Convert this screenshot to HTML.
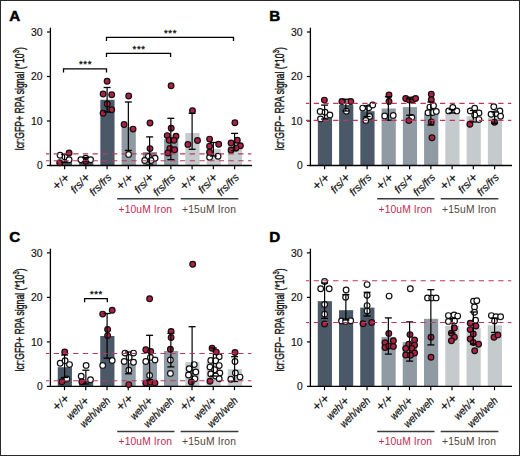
<!DOCTYPE html>
<html><head><meta charset="utf-8">
<style>
html,body{margin:0;padding:0;background:#fff;}
body{width:520px;height:456px;overflow:hidden;}
svg{display:block;font-family:"Liberation Sans", sans-serif;}
</style></head>
<body>
<svg width="520" height="456" viewBox="0 0 520 456">
<rect x="0" y="0" width="520" height="456" fill="#fff"/>
<rect x="57.85" y="161.0" width="14.2" height="4.50" fill="#4a5867"/>
<rect x="79.10" y="162.3" width="14.2" height="3.20" fill="#4a5867"/>
<rect x="100.35" y="99.8" width="14.2" height="65.70" fill="#4a5867"/>
<rect x="121.60" y="126.8" width="14.2" height="38.70" fill="#8f9aa3"/>
<rect x="142.85" y="152.0" width="14.2" height="13.50" fill="#8f9aa3"/>
<rect x="164.10" y="139.0" width="14.2" height="26.50" fill="#8f9aa3"/>
<rect x="185.35" y="133.0" width="14.2" height="32.50" fill="#c5cacd"/>
<rect x="206.60" y="149.2" width="14.2" height="16.30" fill="#c5cacd"/>
<rect x="227.85" y="142.0" width="14.2" height="23.50" fill="#c5cacd"/>
<line x1="50.4" y1="27.7" x2="50.4" y2="166.15" stroke="#000" stroke-width="1.3"/>
<line x1="49.75" y1="165.5" x2="252" y2="165.5" stroke="#000" stroke-width="1.3"/>
<line x1="46.9" y1="165.5" x2="50.4" y2="165.5" stroke="#000" stroke-width="1.2"/>
<text x="42.6" y="169.2" font-size="10.2" text-anchor="end" fill="#111" stroke="#111" stroke-width="0.15" textLength="5.7" lengthAdjust="spacingAndGlyphs">0</text>
<line x1="46.9" y1="121.0" x2="50.4" y2="121.0" stroke="#000" stroke-width="1.2"/>
<text x="42.6" y="124.7" font-size="10.2" text-anchor="end" fill="#111" stroke="#111" stroke-width="0.15" textLength="11.6" lengthAdjust="spacingAndGlyphs">10</text>
<line x1="46.9" y1="76.5" x2="50.4" y2="76.5" stroke="#000" stroke-width="1.2"/>
<text x="42.6" y="80.2" font-size="10.2" text-anchor="end" fill="#111" stroke="#111" stroke-width="0.15" textLength="11.6" lengthAdjust="spacingAndGlyphs">20</text>
<line x1="46.9" y1="32.0" x2="50.4" y2="32.0" stroke="#000" stroke-width="1.2"/>
<text x="42.6" y="35.7" font-size="10.2" text-anchor="end" fill="#111" stroke="#111" stroke-width="0.15" textLength="11.6" lengthAdjust="spacingAndGlyphs">30</text>
<line x1="64.6" y1="165.5" x2="64.6" y2="169.3" stroke="#000" stroke-width="1.2"/>
<line x1="85.85" y1="165.5" x2="85.85" y2="169.3" stroke="#000" stroke-width="1.2"/>
<line x1="107.1" y1="165.5" x2="107.1" y2="169.3" stroke="#000" stroke-width="1.2"/>
<line x1="128.35" y1="165.5" x2="128.35" y2="169.3" stroke="#000" stroke-width="1.2"/>
<line x1="149.6" y1="165.5" x2="149.6" y2="169.3" stroke="#000" stroke-width="1.2"/>
<line x1="170.85" y1="165.5" x2="170.85" y2="169.3" stroke="#000" stroke-width="1.2"/>
<line x1="192.1" y1="165.5" x2="192.1" y2="169.3" stroke="#000" stroke-width="1.2"/>
<line x1="213.35" y1="165.5" x2="213.35" y2="169.3" stroke="#000" stroke-width="1.2"/>
<line x1="234.6" y1="165.5" x2="234.6" y2="169.3" stroke="#000" stroke-width="1.2"/>
<text x="9.3" y="21.2" font-size="15.2" font-weight="bold" fill="#000" stroke="#000" stroke-width="0.5">A</text>
<text transform="translate(24,98.7) rotate(-90)" font-size="12.5" text-anchor="middle" fill="#111" stroke="#111" stroke-width="0.4" textLength="103" lengthAdjust="spacingAndGlyphs">lcr:GFP+ RPA signal (*10<tspan font-size="8.5" dy="-5">3</tspan><tspan dy="5">)</tspan></text>
<circle cx="85.7" cy="158.2" r="2.85" fill="#fff" stroke="#111" stroke-width="1.2"/>
<circle cx="85.7" cy="161.3" r="2.85" fill="#b02042" stroke="#111" stroke-width="1.2"/>
<circle cx="60.1" cy="155.3" r="2.85" fill="#fff" stroke="#111" stroke-width="1.2"/>
<circle cx="65.0" cy="157.0" r="2.85" fill="#fff" stroke="#111" stroke-width="1.2"/>
<circle cx="69.1" cy="159.7" r="2.85" fill="#fff" stroke="#111" stroke-width="1.2"/>
<circle cx="80.9" cy="159.7" r="2.85" fill="#fff" stroke="#111" stroke-width="1.2"/>
<circle cx="90.6" cy="159.7" r="2.85" fill="#fff" stroke="#111" stroke-width="1.2"/>
<circle cx="128.6" cy="154.4" r="2.85" fill="#fff" stroke="#111" stroke-width="1.2"/>
<circle cx="148.4" cy="156.4" r="2.85" fill="#fff" stroke="#111" stroke-width="1.2"/>
<circle cx="155.1" cy="158.2" r="2.85" fill="#fff" stroke="#111" stroke-width="1.2"/>
<circle cx="144.7" cy="160.5" r="2.85" fill="#fff" stroke="#111" stroke-width="1.2"/>
<circle cx="151.0" cy="160.5" r="2.85" fill="#fff" stroke="#111" stroke-width="1.2"/>
<circle cx="209.6" cy="157.2" r="2.85" fill="#fff" stroke="#111" stroke-width="1.2"/>
<circle cx="218.1" cy="156.2" r="2.85" fill="#fff" stroke="#111" stroke-width="1.2"/>
<circle cx="59.7" cy="162.8" r="2.85" fill="#b02042" stroke="#111" stroke-width="1.2"/>
<circle cx="69.1" cy="153.0" r="2.85" fill="#b02042" stroke="#111" stroke-width="1.2"/>
<circle cx="107.1" cy="81.2" r="2.85" fill="#b02042" stroke="#111" stroke-width="1.2"/>
<circle cx="103.1" cy="94.0" r="2.85" fill="#b02042" stroke="#111" stroke-width="1.2"/>
<circle cx="111.7" cy="94.8" r="2.85" fill="#b02042" stroke="#111" stroke-width="1.2"/>
<circle cx="107.3" cy="104.0" r="2.85" fill="#b02042" stroke="#111" stroke-width="1.2"/>
<circle cx="111.7" cy="109.8" r="2.85" fill="#b02042" stroke="#111" stroke-width="1.2"/>
<circle cx="103.1" cy="113.3" r="2.85" fill="#b02042" stroke="#111" stroke-width="1.2"/>
<circle cx="128.7" cy="96.0" r="2.85" fill="#b02042" stroke="#111" stroke-width="1.2"/>
<circle cx="124.1" cy="124.5" r="2.85" fill="#b02042" stroke="#111" stroke-width="1.2"/>
<circle cx="133.1" cy="129.1" r="2.85" fill="#b02042" stroke="#111" stroke-width="1.2"/>
<circle cx="150.0" cy="123.0" r="2.85" fill="#b02042" stroke="#111" stroke-width="1.2"/>
<circle cx="150.0" cy="148.6" r="2.85" fill="#b02042" stroke="#111" stroke-width="1.2"/>
<circle cx="171.1" cy="85.8" r="2.85" fill="#b02042" stroke="#111" stroke-width="1.2"/>
<circle cx="171.2" cy="128.2" r="2.85" fill="#b02042" stroke="#111" stroke-width="1.2"/>
<circle cx="167.2" cy="135.6" r="2.85" fill="#b02042" stroke="#111" stroke-width="1.2"/>
<circle cx="176.0" cy="136.2" r="2.85" fill="#b02042" stroke="#111" stroke-width="1.2"/>
<circle cx="169.2" cy="140.3" r="2.85" fill="#b02042" stroke="#111" stroke-width="1.2"/>
<circle cx="174.0" cy="140.3" r="2.85" fill="#b02042" stroke="#111" stroke-width="1.2"/>
<circle cx="169.9" cy="148.4" r="2.85" fill="#b02042" stroke="#111" stroke-width="1.2"/>
<circle cx="174.6" cy="149.7" r="2.85" fill="#b02042" stroke="#111" stroke-width="1.2"/>
<circle cx="167.9" cy="153.0" r="2.85" fill="#b02042" stroke="#111" stroke-width="1.2"/>
<circle cx="192.5" cy="110.7" r="2.85" fill="#b02042" stroke="#111" stroke-width="1.2"/>
<circle cx="187.9" cy="144.4" r="2.85" fill="#b02042" stroke="#111" stroke-width="1.2"/>
<circle cx="197.5" cy="140.5" r="2.85" fill="#b02042" stroke="#111" stroke-width="1.2"/>
<circle cx="209.6" cy="139.1" r="2.85" fill="#b02042" stroke="#111" stroke-width="1.2"/>
<circle cx="218.7" cy="144.2" r="2.85" fill="#b02042" stroke="#111" stroke-width="1.2"/>
<circle cx="209.6" cy="146.3" r="2.85" fill="#b02042" stroke="#111" stroke-width="1.2"/>
<circle cx="209.6" cy="152.3" r="2.85" fill="#b02042" stroke="#111" stroke-width="1.2"/>
<circle cx="234.9" cy="122.8" r="2.85" fill="#b02042" stroke="#111" stroke-width="1.2"/>
<circle cx="231.1" cy="143.0" r="2.85" fill="#b02042" stroke="#111" stroke-width="1.2"/>
<circle cx="237.3" cy="140.3" r="2.85" fill="#b02042" stroke="#111" stroke-width="1.2"/>
<circle cx="240.4" cy="145.7" r="2.85" fill="#b02042" stroke="#111" stroke-width="1.2"/>
<circle cx="236.1" cy="148.1" r="2.85" fill="#b02042" stroke="#111" stroke-width="1.2"/>
<circle cx="231.1" cy="150.2" r="2.85" fill="#b02042" stroke="#111" stroke-width="1.2"/>
<line x1="64.6" y1="154.5" x2="64.6" y2="162.5" stroke="#000" stroke-width="1.2"/>
<line x1="61.099999999999994" y1="154.5" x2="68.1" y2="154.5" stroke="#000" stroke-width="1.3"/>
<line x1="61.099999999999994" y1="162.5" x2="68.1" y2="162.5" stroke="#000" stroke-width="1.3"/>
<line x1="85.85" y1="157.5" x2="85.85" y2="161.5" stroke="#000" stroke-width="1.2"/>
<line x1="82.35" y1="157.5" x2="89.35" y2="157.5" stroke="#000" stroke-width="1.3"/>
<line x1="82.35" y1="161.5" x2="89.35" y2="161.5" stroke="#000" stroke-width="1.3"/>
<line x1="107.1" y1="87.5" x2="107.1" y2="112.1" stroke="#000" stroke-width="1.2"/>
<line x1="103.6" y1="87.5" x2="110.6" y2="87.5" stroke="#000" stroke-width="1.3"/>
<line x1="103.6" y1="112.1" x2="110.6" y2="112.1" stroke="#000" stroke-width="1.3"/>
<line x1="128.35" y1="102.0" x2="128.35" y2="150.4" stroke="#000" stroke-width="1.2"/>
<line x1="124.85" y1="102.0" x2="131.85" y2="102.0" stroke="#000" stroke-width="1.3"/>
<line x1="124.85" y1="150.4" x2="131.85" y2="150.4" stroke="#000" stroke-width="1.3"/>
<line x1="149.6" y1="136.9" x2="149.6" y2="165.0" stroke="#000" stroke-width="1.2"/>
<line x1="146.1" y1="136.9" x2="153.1" y2="136.9" stroke="#000" stroke-width="1.3"/>
<line x1="146.1" y1="165.0" x2="153.1" y2="165.0" stroke="#000" stroke-width="1.3"/>
<line x1="170.85" y1="118.3" x2="170.85" y2="159.7" stroke="#000" stroke-width="1.2"/>
<line x1="167.35" y1="118.3" x2="174.35" y2="118.3" stroke="#000" stroke-width="1.3"/>
<line x1="167.35" y1="159.7" x2="174.35" y2="159.7" stroke="#000" stroke-width="1.3"/>
<line x1="192.1" y1="113.3" x2="192.1" y2="149.3" stroke="#000" stroke-width="1.2"/>
<line x1="188.6" y1="113.3" x2="195.6" y2="113.3" stroke="#000" stroke-width="1.3"/>
<line x1="188.6" y1="149.3" x2="195.6" y2="149.3" stroke="#000" stroke-width="1.3"/>
<line x1="213.35" y1="142.5" x2="213.35" y2="156.0" stroke="#000" stroke-width="1.2"/>
<line x1="209.85" y1="142.5" x2="216.85" y2="142.5" stroke="#000" stroke-width="1.3"/>
<line x1="209.85" y1="156.0" x2="216.85" y2="156.0" stroke="#000" stroke-width="1.3"/>
<line x1="234.6" y1="133.4" x2="234.6" y2="150.6" stroke="#000" stroke-width="1.2"/>
<line x1="231.1" y1="133.4" x2="238.1" y2="133.4" stroke="#000" stroke-width="1.3"/>
<line x1="231.1" y1="150.6" x2="238.1" y2="150.6" stroke="#000" stroke-width="1.3"/>
<line x1="46" y1="153.8" x2="251.3" y2="153.8" stroke="#bb3a5c" stroke-width="1.15" stroke-dasharray="5.3 4.41" stroke-dashoffset="2"/>
<line x1="46" y1="160.7" x2="251.3" y2="160.7" stroke="#bb3a5c" stroke-width="1.15" stroke-dasharray="5.3 4.41" stroke-dashoffset="2"/>
<path d="M63.5 72.39999999999999 V68.8 H106.5 V72.39999999999999" fill="none" stroke="#000" stroke-width="1.3"/>
<text x="85.5" y="66.5" font-size="9.5" letter-spacing="0.6" text-anchor="middle" fill="#111" stroke="#111" stroke-width="0.3">***</text>
<path d="M106.5 56.9 V53.3 H170.6 V56.9" fill="none" stroke="#000" stroke-width="1.3"/>
<text x="139.05" y="51.8" font-size="9.5" letter-spacing="0.6" text-anchor="middle" fill="#111" stroke="#111" stroke-width="0.3">***</text>
<path d="M106.5 40.9 V37.3 H233.5 V40.9" fill="none" stroke="#000" stroke-width="1.3"/>
<text x="170.5" y="36.0" font-size="9.5" letter-spacing="0.6" text-anchor="middle" fill="#111" stroke="#111" stroke-width="0.3">***</text>
<text transform="translate(69.6,178.0) rotate(-45)" font-size="11" font-style="italic" text-anchor="end" fill="#111" stroke="#111" stroke-width="0.2" textLength="18" lengthAdjust="spacingAndGlyphs"><tspan font-size="13.5" dy="0.6">+</tspan><tspan dy="-0.6"></tspan>/<tspan font-size="13.5" dy="0.6">+</tspan><tspan dy="-0.6"></tspan></text>
<text transform="translate(90.85,178.0) rotate(-45)" font-size="11" font-style="italic" text-anchor="end" fill="#111" stroke="#111" stroke-width="0.2" textLength="22.5" lengthAdjust="spacingAndGlyphs">frs/<tspan font-size="13.5" dy="0.6">+</tspan><tspan dy="-0.6"></tspan></text>
<text transform="translate(112.1,178.0) rotate(-45)" font-size="11" font-style="italic" text-anchor="end" fill="#111" stroke="#111" stroke-width="0.2" textLength="26" lengthAdjust="spacingAndGlyphs">frs/frs</text>
<text transform="translate(133.35,178.0) rotate(-45)" font-size="11" font-style="italic" text-anchor="end" fill="#111" stroke="#111" stroke-width="0.2" textLength="18" lengthAdjust="spacingAndGlyphs"><tspan font-size="13.5" dy="0.6">+</tspan><tspan dy="-0.6"></tspan>/<tspan font-size="13.5" dy="0.6">+</tspan><tspan dy="-0.6"></tspan></text>
<text transform="translate(154.6,178.0) rotate(-45)" font-size="11" font-style="italic" text-anchor="end" fill="#111" stroke="#111" stroke-width="0.2" textLength="22.5" lengthAdjust="spacingAndGlyphs">frs/<tspan font-size="13.5" dy="0.6">+</tspan><tspan dy="-0.6"></tspan></text>
<text transform="translate(175.85,178.0) rotate(-45)" font-size="11" font-style="italic" text-anchor="end" fill="#111" stroke="#111" stroke-width="0.2" textLength="26" lengthAdjust="spacingAndGlyphs">frs/frs</text>
<text transform="translate(197.1,178.0) rotate(-45)" font-size="11" font-style="italic" text-anchor="end" fill="#111" stroke="#111" stroke-width="0.2" textLength="18" lengthAdjust="spacingAndGlyphs"><tspan font-size="13.5" dy="0.6">+</tspan><tspan dy="-0.6"></tspan>/<tspan font-size="13.5" dy="0.6">+</tspan><tspan dy="-0.6"></tspan></text>
<text transform="translate(218.35,178.0) rotate(-45)" font-size="11" font-style="italic" text-anchor="end" fill="#111" stroke="#111" stroke-width="0.2" textLength="22.5" lengthAdjust="spacingAndGlyphs">frs/<tspan font-size="13.5" dy="0.6">+</tspan><tspan dy="-0.6"></tspan></text>
<text transform="translate(239.6,178.0) rotate(-45)" font-size="11" font-style="italic" text-anchor="end" fill="#111" stroke="#111" stroke-width="0.2" textLength="26" lengthAdjust="spacingAndGlyphs">frs/frs</text>
<line x1="117.2" y1="198.7" x2="174.5" y2="198.7" stroke="#3a3a3a" stroke-width="1.5"/>
<line x1="180.7" y1="198.7" x2="238.4" y2="198.7" stroke="#3a3a3a" stroke-width="1.5"/>
<text x="118.5" y="212.8" font-size="10.3" fill="#c42a52" textLength="53.5" lengthAdjust="spacing">+10uM Iron</text>
<text x="182" y="212.8" font-size="10.3" fill="#52443a" textLength="54" lengthAdjust="spacing">+15uM Iron</text>
<rect x="317.85" y="117.6" width="14.2" height="47.90" fill="#4a5867"/>
<rect x="339.10" y="105.0" width="14.2" height="60.50" fill="#4a5867"/>
<rect x="360.35" y="111.2" width="14.2" height="54.30" fill="#4a5867"/>
<rect x="381.60" y="108.5" width="14.2" height="57.00" fill="#8f9aa3"/>
<rect x="402.85" y="107.1" width="14.2" height="58.40" fill="#8f9aa3"/>
<rect x="424.10" y="113.5" width="14.2" height="52.00" fill="#8f9aa3"/>
<rect x="445.35" y="112.9" width="14.2" height="52.60" fill="#c5cacd"/>
<rect x="466.60" y="116.2" width="14.2" height="49.30" fill="#c5cacd"/>
<rect x="487.85" y="117.6" width="14.2" height="47.90" fill="#c5cacd"/>
<line x1="310.4" y1="27.7" x2="310.4" y2="166.15" stroke="#000" stroke-width="1.3"/>
<line x1="309.75" y1="165.5" x2="512" y2="165.5" stroke="#000" stroke-width="1.3"/>
<line x1="306.9" y1="165.5" x2="310.4" y2="165.5" stroke="#000" stroke-width="1.2"/>
<text x="302.59999999999997" y="169.2" font-size="10.2" text-anchor="end" fill="#111" stroke="#111" stroke-width="0.15" textLength="5.7" lengthAdjust="spacingAndGlyphs">0</text>
<line x1="306.9" y1="121.0" x2="310.4" y2="121.0" stroke="#000" stroke-width="1.2"/>
<text x="302.59999999999997" y="124.7" font-size="10.2" text-anchor="end" fill="#111" stroke="#111" stroke-width="0.15" textLength="11.6" lengthAdjust="spacingAndGlyphs">10</text>
<line x1="306.9" y1="76.5" x2="310.4" y2="76.5" stroke="#000" stroke-width="1.2"/>
<text x="302.59999999999997" y="80.2" font-size="10.2" text-anchor="end" fill="#111" stroke="#111" stroke-width="0.15" textLength="11.6" lengthAdjust="spacingAndGlyphs">20</text>
<line x1="306.9" y1="32.0" x2="310.4" y2="32.0" stroke="#000" stroke-width="1.2"/>
<text x="302.59999999999997" y="35.7" font-size="10.2" text-anchor="end" fill="#111" stroke="#111" stroke-width="0.15" textLength="11.6" lengthAdjust="spacingAndGlyphs">30</text>
<line x1="324.6" y1="165.5" x2="324.6" y2="169.3" stroke="#000" stroke-width="1.2"/>
<line x1="345.85" y1="165.5" x2="345.85" y2="169.3" stroke="#000" stroke-width="1.2"/>
<line x1="367.1" y1="165.5" x2="367.1" y2="169.3" stroke="#000" stroke-width="1.2"/>
<line x1="388.35" y1="165.5" x2="388.35" y2="169.3" stroke="#000" stroke-width="1.2"/>
<line x1="409.6" y1="165.5" x2="409.6" y2="169.3" stroke="#000" stroke-width="1.2"/>
<line x1="430.85" y1="165.5" x2="430.85" y2="169.3" stroke="#000" stroke-width="1.2"/>
<line x1="452.1" y1="165.5" x2="452.1" y2="169.3" stroke="#000" stroke-width="1.2"/>
<line x1="473.35" y1="165.5" x2="473.35" y2="169.3" stroke="#000" stroke-width="1.2"/>
<line x1="494.6" y1="165.5" x2="494.6" y2="169.3" stroke="#000" stroke-width="1.2"/>
<text x="269.3" y="21.2" font-size="15.2" font-weight="bold" fill="#000" stroke="#000" stroke-width="0.5">B</text>
<text transform="translate(284,98.7) rotate(-90)" font-size="12.5" text-anchor="middle" fill="#111" stroke="#111" stroke-width="0.4" textLength="103" lengthAdjust="spacingAndGlyphs">lcr:GFP− RPA signal (*10<tspan font-size="8.5" dy="-5">3</tspan><tspan dy="5">)</tspan></text>
<circle cx="320.1" cy="111.5" r="2.85" fill="#fff" stroke="#111" stroke-width="1.2"/>
<circle cx="325.1" cy="112.2" r="2.85" fill="#fff" stroke="#111" stroke-width="1.2"/>
<circle cx="329.9" cy="114.9" r="2.85" fill="#fff" stroke="#111" stroke-width="1.2"/>
<circle cx="320.5" cy="118.9" r="2.85" fill="#fff" stroke="#111" stroke-width="1.2"/>
<circle cx="346.4" cy="111.2" r="2.85" fill="#fff" stroke="#111" stroke-width="1.2"/>
<circle cx="362.7" cy="108.1" r="2.85" fill="#fff" stroke="#111" stroke-width="1.2"/>
<circle cx="368.8" cy="107.7" r="2.85" fill="#fff" stroke="#111" stroke-width="1.2"/>
<circle cx="372.7" cy="105.0" r="2.85" fill="#fff" stroke="#111" stroke-width="1.2"/>
<circle cx="369.6" cy="116.5" r="2.85" fill="#fff" stroke="#111" stroke-width="1.2"/>
<circle cx="365.8" cy="120.4" r="2.85" fill="#fff" stroke="#111" stroke-width="1.2"/>
<circle cx="384.7" cy="115.9" r="2.85" fill="#fff" stroke="#111" stroke-width="1.2"/>
<circle cx="393.2" cy="115.4" r="2.85" fill="#fff" stroke="#111" stroke-width="1.2"/>
<circle cx="411.8" cy="117.4" r="2.85" fill="#fff" stroke="#111" stroke-width="1.2"/>
<circle cx="429.9" cy="107.1" r="2.85" fill="#fff" stroke="#111" stroke-width="1.2"/>
<circle cx="433.5" cy="105.7" r="2.85" fill="#fff" stroke="#111" stroke-width="1.2"/>
<circle cx="428.0" cy="112.8" r="2.85" fill="#fff" stroke="#111" stroke-width="1.2"/>
<circle cx="432.7" cy="112.5" r="2.85" fill="#fff" stroke="#111" stroke-width="1.2"/>
<circle cx="436.3" cy="111.4" r="2.85" fill="#fff" stroke="#111" stroke-width="1.2"/>
<circle cx="448.7" cy="110.9" r="2.85" fill="#fff" stroke="#111" stroke-width="1.2"/>
<circle cx="452.8" cy="107.5" r="2.85" fill="#fff" stroke="#111" stroke-width="1.2"/>
<circle cx="456.8" cy="110.9" r="2.85" fill="#fff" stroke="#111" stroke-width="1.2"/>
<circle cx="470.3" cy="110.9" r="2.85" fill="#fff" stroke="#111" stroke-width="1.2"/>
<circle cx="474.7" cy="108.2" r="2.85" fill="#fff" stroke="#111" stroke-width="1.2"/>
<circle cx="479.0" cy="112.9" r="2.85" fill="#fff" stroke="#111" stroke-width="1.2"/>
<circle cx="474.7" cy="114.9" r="2.85" fill="#fff" stroke="#111" stroke-width="1.2"/>
<circle cx="479.0" cy="119.6" r="2.85" fill="#fff" stroke="#111" stroke-width="1.2"/>
<circle cx="493.8" cy="106.8" r="2.85" fill="#fff" stroke="#111" stroke-width="1.2"/>
<circle cx="499.9" cy="110.9" r="2.85" fill="#fff" stroke="#111" stroke-width="1.2"/>
<circle cx="491.1" cy="114.2" r="2.85" fill="#fff" stroke="#111" stroke-width="1.2"/>
<circle cx="495.9" cy="113.6" r="2.85" fill="#fff" stroke="#111" stroke-width="1.2"/>
<circle cx="500.6" cy="116.2" r="2.85" fill="#fff" stroke="#111" stroke-width="1.2"/>
<circle cx="324.4" cy="100.1" r="2.85" fill="#b02042" stroke="#111" stroke-width="1.2"/>
<circle cx="341.9" cy="101.5" r="2.85" fill="#b02042" stroke="#111" stroke-width="1.2"/>
<circle cx="350.8" cy="101.5" r="2.85" fill="#b02042" stroke="#111" stroke-width="1.2"/>
<circle cx="389.0" cy="95.0" r="2.85" fill="#b02042" stroke="#111" stroke-width="1.2"/>
<circle cx="389.0" cy="101.4" r="2.85" fill="#b02042" stroke="#111" stroke-width="1.2"/>
<circle cx="405.7" cy="98.5" r="2.85" fill="#b02042" stroke="#111" stroke-width="1.2"/>
<circle cx="409.2" cy="100.0" r="2.85" fill="#b02042" stroke="#111" stroke-width="1.2"/>
<circle cx="412.8" cy="99.7" r="2.85" fill="#b02042" stroke="#111" stroke-width="1.2"/>
<circle cx="415.6" cy="98.5" r="2.85" fill="#b02042" stroke="#111" stroke-width="1.2"/>
<circle cx="408.9" cy="120.6" r="2.85" fill="#b02042" stroke="#111" stroke-width="1.2"/>
<circle cx="431.3" cy="94.3" r="2.85" fill="#b02042" stroke="#111" stroke-width="1.2"/>
<circle cx="431.3" cy="99.7" r="2.85" fill="#b02042" stroke="#111" stroke-width="1.2"/>
<circle cx="431.3" cy="122.0" r="2.85" fill="#b02042" stroke="#111" stroke-width="1.2"/>
<circle cx="432.0" cy="137.7" r="2.85" fill="#b02042" stroke="#111" stroke-width="1.2"/>
<circle cx="469.9" cy="124.3" r="2.85" fill="#b02042" stroke="#111" stroke-width="1.2"/>
<circle cx="494.5" cy="122.3" r="2.85" fill="#b02042" stroke="#111" stroke-width="1.2"/>
<line x1="324.6" y1="105.1" x2="324.6" y2="119.0" stroke="#000" stroke-width="1.2"/>
<line x1="321.1" y1="105.1" x2="328.1" y2="105.1" stroke="#000" stroke-width="1.3"/>
<line x1="321.1" y1="119.0" x2="328.1" y2="119.0" stroke="#000" stroke-width="1.3"/>
<line x1="345.85" y1="99.2" x2="345.85" y2="111.0" stroke="#000" stroke-width="1.2"/>
<line x1="342.35" y1="99.2" x2="349.35" y2="99.2" stroke="#000" stroke-width="1.3"/>
<line x1="342.35" y1="111.0" x2="349.35" y2="111.0" stroke="#000" stroke-width="1.3"/>
<line x1="367.1" y1="106.0" x2="367.1" y2="116.5" stroke="#000" stroke-width="1.2"/>
<line x1="363.6" y1="106.0" x2="370.6" y2="106.0" stroke="#000" stroke-width="1.3"/>
<line x1="363.6" y1="116.5" x2="370.6" y2="116.5" stroke="#000" stroke-width="1.3"/>
<line x1="388.35" y1="96.8" x2="388.35" y2="120.2" stroke="#000" stroke-width="1.2"/>
<line x1="384.85" y1="96.8" x2="391.85" y2="96.8" stroke="#000" stroke-width="1.3"/>
<line x1="384.85" y1="120.2" x2="391.85" y2="120.2" stroke="#000" stroke-width="1.3"/>
<line x1="409.6" y1="99.0" x2="409.6" y2="115.2" stroke="#000" stroke-width="1.2"/>
<line x1="406.1" y1="99.0" x2="413.1" y2="99.0" stroke="#000" stroke-width="1.3"/>
<line x1="406.1" y1="115.2" x2="413.1" y2="115.2" stroke="#000" stroke-width="1.3"/>
<line x1="430.85" y1="102.0" x2="430.85" y2="125.0" stroke="#000" stroke-width="1.2"/>
<line x1="427.35" y1="102.0" x2="434.35" y2="102.0" stroke="#000" stroke-width="1.3"/>
<line x1="427.35" y1="125.0" x2="434.35" y2="125.0" stroke="#000" stroke-width="1.3"/>
<line x1="452.1" y1="109.5" x2="452.1" y2="113.0" stroke="#000" stroke-width="1.2"/>
<line x1="448.6" y1="109.5" x2="455.6" y2="109.5" stroke="#000" stroke-width="1.3"/>
<line x1="448.6" y1="113.0" x2="455.6" y2="113.0" stroke="#000" stroke-width="1.3"/>
<line x1="473.35" y1="110.5" x2="473.35" y2="122.0" stroke="#000" stroke-width="1.2"/>
<line x1="469.85" y1="110.5" x2="476.85" y2="110.5" stroke="#000" stroke-width="1.3"/>
<line x1="469.85" y1="122.0" x2="476.85" y2="122.0" stroke="#000" stroke-width="1.3"/>
<line x1="494.6" y1="112.0" x2="494.6" y2="123.2" stroke="#000" stroke-width="1.2"/>
<line x1="491.1" y1="112.0" x2="498.1" y2="112.0" stroke="#000" stroke-width="1.3"/>
<line x1="491.1" y1="123.2" x2="498.1" y2="123.2" stroke="#000" stroke-width="1.3"/>
<line x1="306" y1="103.4" x2="511.3" y2="103.4" stroke="#bb3a5c" stroke-width="1.15" stroke-dasharray="5.3 4.41" stroke-dashoffset="2"/>
<line x1="306" y1="120.3" x2="511.3" y2="120.3" stroke="#bb3a5c" stroke-width="1.15" stroke-dasharray="5.3 4.41" stroke-dashoffset="2"/>
<text transform="translate(329.6,178.0) rotate(-45)" font-size="11" font-style="italic" text-anchor="end" fill="#111" stroke="#111" stroke-width="0.2" textLength="18" lengthAdjust="spacingAndGlyphs"><tspan font-size="13.5" dy="0.6">+</tspan><tspan dy="-0.6"></tspan>/<tspan font-size="13.5" dy="0.6">+</tspan><tspan dy="-0.6"></tspan></text>
<text transform="translate(350.85,178.0) rotate(-45)" font-size="11" font-style="italic" text-anchor="end" fill="#111" stroke="#111" stroke-width="0.2" textLength="22.5" lengthAdjust="spacingAndGlyphs">frs/<tspan font-size="13.5" dy="0.6">+</tspan><tspan dy="-0.6"></tspan></text>
<text transform="translate(372.1,178.0) rotate(-45)" font-size="11" font-style="italic" text-anchor="end" fill="#111" stroke="#111" stroke-width="0.2" textLength="26" lengthAdjust="spacingAndGlyphs">frs/frs</text>
<text transform="translate(393.35,178.0) rotate(-45)" font-size="11" font-style="italic" text-anchor="end" fill="#111" stroke="#111" stroke-width="0.2" textLength="18" lengthAdjust="spacingAndGlyphs"><tspan font-size="13.5" dy="0.6">+</tspan><tspan dy="-0.6"></tspan>/<tspan font-size="13.5" dy="0.6">+</tspan><tspan dy="-0.6"></tspan></text>
<text transform="translate(414.6,178.0) rotate(-45)" font-size="11" font-style="italic" text-anchor="end" fill="#111" stroke="#111" stroke-width="0.2" textLength="22.5" lengthAdjust="spacingAndGlyphs">frs/<tspan font-size="13.5" dy="0.6">+</tspan><tspan dy="-0.6"></tspan></text>
<text transform="translate(435.85,178.0) rotate(-45)" font-size="11" font-style="italic" text-anchor="end" fill="#111" stroke="#111" stroke-width="0.2" textLength="26" lengthAdjust="spacingAndGlyphs">frs/frs</text>
<text transform="translate(457.1,178.0) rotate(-45)" font-size="11" font-style="italic" text-anchor="end" fill="#111" stroke="#111" stroke-width="0.2" textLength="18" lengthAdjust="spacingAndGlyphs"><tspan font-size="13.5" dy="0.6">+</tspan><tspan dy="-0.6"></tspan>/<tspan font-size="13.5" dy="0.6">+</tspan><tspan dy="-0.6"></tspan></text>
<text transform="translate(478.35,178.0) rotate(-45)" font-size="11" font-style="italic" text-anchor="end" fill="#111" stroke="#111" stroke-width="0.2" textLength="22.5" lengthAdjust="spacingAndGlyphs">frs/<tspan font-size="13.5" dy="0.6">+</tspan><tspan dy="-0.6"></tspan></text>
<text transform="translate(499.6,178.0) rotate(-45)" font-size="11" font-style="italic" text-anchor="end" fill="#111" stroke="#111" stroke-width="0.2" textLength="26" lengthAdjust="spacingAndGlyphs">frs/frs</text>
<line x1="377.2" y1="198.7" x2="434.5" y2="198.7" stroke="#3a3a3a" stroke-width="1.5"/>
<line x1="440.7" y1="198.7" x2="498.4" y2="198.7" stroke="#3a3a3a" stroke-width="1.5"/>
<text x="378.5" y="212.8" font-size="10.3" fill="#c42a52" textLength="53.5" lengthAdjust="spacing">+10uM Iron</text>
<text x="442" y="212.8" font-size="10.3" fill="#52443a" textLength="54" lengthAdjust="spacing">+15uM Iron</text>
<rect x="57.75" y="367.2" width="14.2" height="19.20" fill="#4a5867"/>
<rect x="79.00" y="381.0" width="14.2" height="5.40" fill="#4a5867"/>
<rect x="100.25" y="336.0" width="14.2" height="50.40" fill="#4a5867"/>
<rect x="121.50" y="363.0" width="14.2" height="23.40" fill="#8f9aa3"/>
<rect x="142.75" y="362.3" width="14.2" height="24.10" fill="#8f9aa3"/>
<rect x="164.00" y="351.0" width="14.2" height="35.40" fill="#8f9aa3"/>
<rect x="185.25" y="362.1" width="14.2" height="24.30" fill="#c5cacd"/>
<rect x="206.50" y="362.0" width="14.2" height="24.40" fill="#c5cacd"/>
<rect x="227.75" y="369.2" width="14.2" height="17.20" fill="#c5cacd"/>
<line x1="50.4" y1="248.7" x2="50.4" y2="387.04999999999995" stroke="#000" stroke-width="1.3"/>
<line x1="49.75" y1="386.4" x2="252" y2="386.4" stroke="#000" stroke-width="1.3"/>
<line x1="46.9" y1="386.4" x2="50.4" y2="386.4" stroke="#000" stroke-width="1.2"/>
<text x="42.6" y="390.09999999999997" font-size="10.2" text-anchor="end" fill="#111" stroke="#111" stroke-width="0.15" textLength="5.7" lengthAdjust="spacingAndGlyphs">0</text>
<line x1="46.9" y1="341.9" x2="50.4" y2="341.9" stroke="#000" stroke-width="1.2"/>
<text x="42.6" y="345.59999999999997" font-size="10.2" text-anchor="end" fill="#111" stroke="#111" stroke-width="0.15" textLength="11.6" lengthAdjust="spacingAndGlyphs">10</text>
<line x1="46.9" y1="297.4" x2="50.4" y2="297.4" stroke="#000" stroke-width="1.2"/>
<text x="42.6" y="301.09999999999997" font-size="10.2" text-anchor="end" fill="#111" stroke="#111" stroke-width="0.15" textLength="11.6" lengthAdjust="spacingAndGlyphs">20</text>
<line x1="46.9" y1="252.89999999999998" x2="50.4" y2="252.89999999999998" stroke="#000" stroke-width="1.2"/>
<text x="42.6" y="256.59999999999997" font-size="10.2" text-anchor="end" fill="#111" stroke="#111" stroke-width="0.15" textLength="11.6" lengthAdjust="spacingAndGlyphs">30</text>
<line x1="64.5" y1="386.4" x2="64.5" y2="390.2" stroke="#000" stroke-width="1.2"/>
<line x1="85.75" y1="386.4" x2="85.75" y2="390.2" stroke="#000" stroke-width="1.2"/>
<line x1="107.0" y1="386.4" x2="107.0" y2="390.2" stroke="#000" stroke-width="1.2"/>
<line x1="128.25" y1="386.4" x2="128.25" y2="390.2" stroke="#000" stroke-width="1.2"/>
<line x1="149.5" y1="386.4" x2="149.5" y2="390.2" stroke="#000" stroke-width="1.2"/>
<line x1="170.75" y1="386.4" x2="170.75" y2="390.2" stroke="#000" stroke-width="1.2"/>
<line x1="192.0" y1="386.4" x2="192.0" y2="390.2" stroke="#000" stroke-width="1.2"/>
<line x1="213.25" y1="386.4" x2="213.25" y2="390.2" stroke="#000" stroke-width="1.2"/>
<line x1="234.5" y1="386.4" x2="234.5" y2="390.2" stroke="#000" stroke-width="1.2"/>
<text x="9.3" y="242.39999999999998" font-size="15.2" font-weight="bold" fill="#000" stroke="#000" stroke-width="0.5">C</text>
<text transform="translate(24,319.9) rotate(-90)" font-size="12.5" text-anchor="middle" fill="#111" stroke="#111" stroke-width="0.4" textLength="103" lengthAdjust="spacingAndGlyphs">lcr:GFP+ RPA signal (*10<tspan font-size="8.5" dy="-5">3</tspan><tspan dy="5">)</tspan></text>
<circle cx="60.2" cy="363.2" r="2.85" fill="#fff" stroke="#111" stroke-width="1.2"/>
<circle cx="65.1" cy="360.7" r="2.85" fill="#fff" stroke="#111" stroke-width="1.2"/>
<circle cx="69.5" cy="364.6" r="2.85" fill="#fff" stroke="#111" stroke-width="1.2"/>
<circle cx="66.8" cy="379.0" r="2.85" fill="#fff" stroke="#111" stroke-width="1.2"/>
<circle cx="86.1" cy="365.4" r="2.85" fill="#fff" stroke="#111" stroke-width="1.2"/>
<circle cx="81.2" cy="376.3" r="2.85" fill="#fff" stroke="#111" stroke-width="1.2"/>
<circle cx="90.5" cy="379.8" r="2.85" fill="#fff" stroke="#111" stroke-width="1.2"/>
<circle cx="102.7" cy="365.4" r="2.85" fill="#fff" stroke="#111" stroke-width="1.2"/>
<circle cx="112.2" cy="360.5" r="2.85" fill="#fff" stroke="#111" stroke-width="1.2"/>
<circle cx="125.0" cy="353.1" r="2.85" fill="#fff" stroke="#111" stroke-width="1.2"/>
<circle cx="133.5" cy="353.1" r="2.85" fill="#fff" stroke="#111" stroke-width="1.2"/>
<circle cx="129.2" cy="357.4" r="2.85" fill="#fff" stroke="#111" stroke-width="1.2"/>
<circle cx="124.2" cy="361.5" r="2.85" fill="#fff" stroke="#111" stroke-width="1.2"/>
<circle cx="133.5" cy="362.3" r="2.85" fill="#fff" stroke="#111" stroke-width="1.2"/>
<circle cx="128.8" cy="370.3" r="2.85" fill="#fff" stroke="#111" stroke-width="1.2"/>
<circle cx="150.4" cy="357.4" r="2.85" fill="#fff" stroke="#111" stroke-width="1.2"/>
<circle cx="145.8" cy="361.5" r="2.85" fill="#fff" stroke="#111" stroke-width="1.2"/>
<circle cx="155.0" cy="360.0" r="2.85" fill="#fff" stroke="#111" stroke-width="1.2"/>
<circle cx="149.6" cy="375.4" r="2.85" fill="#fff" stroke="#111" stroke-width="1.2"/>
<circle cx="170.4" cy="360.0" r="2.85" fill="#fff" stroke="#111" stroke-width="1.2"/>
<circle cx="170.4" cy="373.4" r="2.85" fill="#fff" stroke="#111" stroke-width="1.2"/>
<circle cx="189.2" cy="368.8" r="2.85" fill="#fff" stroke="#111" stroke-width="1.2"/>
<circle cx="194.2" cy="364.6" r="2.85" fill="#fff" stroke="#111" stroke-width="1.2"/>
<circle cx="195.8" cy="371.9" r="2.85" fill="#fff" stroke="#111" stroke-width="1.2"/>
<circle cx="188.5" cy="375.0" r="2.85" fill="#fff" stroke="#111" stroke-width="1.2"/>
<circle cx="194.8" cy="378.8" r="2.85" fill="#fff" stroke="#111" stroke-width="1.2"/>
<circle cx="210.8" cy="360.4" r="2.85" fill="#fff" stroke="#111" stroke-width="1.2"/>
<circle cx="219.2" cy="356.7" r="2.85" fill="#fff" stroke="#111" stroke-width="1.2"/>
<circle cx="215.6" cy="360.8" r="2.85" fill="#fff" stroke="#111" stroke-width="1.2"/>
<circle cx="210.0" cy="367.1" r="2.85" fill="#fff" stroke="#111" stroke-width="1.2"/>
<circle cx="219.2" cy="365.6" r="2.85" fill="#fff" stroke="#111" stroke-width="1.2"/>
<circle cx="214.6" cy="369.8" r="2.85" fill="#fff" stroke="#111" stroke-width="1.2"/>
<circle cx="210.8" cy="374.0" r="2.85" fill="#fff" stroke="#111" stroke-width="1.2"/>
<circle cx="219.8" cy="372.9" r="2.85" fill="#fff" stroke="#111" stroke-width="1.2"/>
<circle cx="215.6" cy="376.0" r="2.85" fill="#fff" stroke="#111" stroke-width="1.2"/>
<circle cx="219.2" cy="378.8" r="2.85" fill="#fff" stroke="#111" stroke-width="1.2"/>
<circle cx="235.0" cy="361.5" r="2.85" fill="#fff" stroke="#111" stroke-width="1.2"/>
<circle cx="235.4" cy="372.9" r="2.85" fill="#fff" stroke="#111" stroke-width="1.2"/>
<circle cx="240.0" cy="377.1" r="2.85" fill="#fff" stroke="#111" stroke-width="1.2"/>
<circle cx="230.8" cy="379.2" r="2.85" fill="#fff" stroke="#111" stroke-width="1.2"/>
<circle cx="64.7" cy="351.9" r="2.85" fill="#b02042" stroke="#111" stroke-width="1.2"/>
<circle cx="61.9" cy="381.8" r="2.85" fill="#b02042" stroke="#111" stroke-width="1.2"/>
<circle cx="81.8" cy="381.8" r="2.85" fill="#b02042" stroke="#111" stroke-width="1.2"/>
<circle cx="102.7" cy="314.1" r="2.85" fill="#b02042" stroke="#111" stroke-width="1.2"/>
<circle cx="112.2" cy="310.2" r="2.85" fill="#b02042" stroke="#111" stroke-width="1.2"/>
<circle cx="107.6" cy="329.4" r="2.85" fill="#b02042" stroke="#111" stroke-width="1.2"/>
<circle cx="107.6" cy="335.6" r="2.85" fill="#b02042" stroke="#111" stroke-width="1.2"/>
<circle cx="128.8" cy="384.6" r="2.85" fill="#b02042" stroke="#111" stroke-width="1.2"/>
<circle cx="149.6" cy="298.7" r="2.85" fill="#b02042" stroke="#111" stroke-width="1.2"/>
<circle cx="145.8" cy="349.7" r="2.85" fill="#b02042" stroke="#111" stroke-width="1.2"/>
<circle cx="150.7" cy="351.5" r="2.85" fill="#b02042" stroke="#111" stroke-width="1.2"/>
<circle cx="145.8" cy="383.1" r="2.85" fill="#b02042" stroke="#111" stroke-width="1.2"/>
<circle cx="150.4" cy="382.3" r="2.85" fill="#b02042" stroke="#111" stroke-width="1.2"/>
<circle cx="155.0" cy="383.1" r="2.85" fill="#b02042" stroke="#111" stroke-width="1.2"/>
<circle cx="171.1" cy="331.4" r="2.85" fill="#b02042" stroke="#111" stroke-width="1.2"/>
<circle cx="171.1" cy="337.6" r="2.85" fill="#b02042" stroke="#111" stroke-width="1.2"/>
<circle cx="170.4" cy="349.2" r="2.85" fill="#b02042" stroke="#111" stroke-width="1.2"/>
<circle cx="192.7" cy="264.2" r="2.85" fill="#b02042" stroke="#111" stroke-width="1.2"/>
<circle cx="191.3" cy="381.9" r="2.85" fill="#b02042" stroke="#111" stroke-width="1.2"/>
<circle cx="212.1" cy="348.3" r="2.85" fill="#b02042" stroke="#111" stroke-width="1.2"/>
<circle cx="216.3" cy="352.1" r="2.85" fill="#b02042" stroke="#111" stroke-width="1.2"/>
<circle cx="210.0" cy="381.3" r="2.85" fill="#b02042" stroke="#111" stroke-width="1.2"/>
<circle cx="235.0" cy="352.5" r="2.85" fill="#b02042" stroke="#111" stroke-width="1.2"/>
<line x1="64.6" y1="355.0" x2="64.6" y2="377.5" stroke="#000" stroke-width="1.2"/>
<line x1="61.099999999999994" y1="355.0" x2="68.1" y2="355.0" stroke="#000" stroke-width="1.3"/>
<line x1="61.099999999999994" y1="377.5" x2="68.1" y2="377.5" stroke="#000" stroke-width="1.3"/>
<line x1="85.85" y1="370.2" x2="85.85" y2="384.0" stroke="#000" stroke-width="1.2"/>
<line x1="82.35" y1="370.2" x2="89.35" y2="370.2" stroke="#000" stroke-width="1.3"/>
<line x1="82.35" y1="384.0" x2="89.35" y2="384.0" stroke="#000" stroke-width="1.3"/>
<line x1="107.1" y1="313.5" x2="107.1" y2="358.2" stroke="#000" stroke-width="1.2"/>
<line x1="103.6" y1="313.5" x2="110.6" y2="313.5" stroke="#000" stroke-width="1.3"/>
<line x1="103.6" y1="358.2" x2="110.6" y2="358.2" stroke="#000" stroke-width="1.3"/>
<line x1="128.35" y1="352.0" x2="128.35" y2="373.8" stroke="#000" stroke-width="1.2"/>
<line x1="124.85" y1="352.0" x2="131.85" y2="352.0" stroke="#000" stroke-width="1.3"/>
<line x1="124.85" y1="373.8" x2="131.85" y2="373.8" stroke="#000" stroke-width="1.3"/>
<line x1="149.6" y1="335.3" x2="149.6" y2="380.0" stroke="#000" stroke-width="1.2"/>
<line x1="146.1" y1="335.3" x2="153.1" y2="335.3" stroke="#000" stroke-width="1.3"/>
<line x1="146.1" y1="380.0" x2="153.1" y2="380.0" stroke="#000" stroke-width="1.3"/>
<line x1="170.85" y1="333.4" x2="170.85" y2="366.9" stroke="#000" stroke-width="1.2"/>
<line x1="167.35" y1="333.4" x2="174.35" y2="333.4" stroke="#000" stroke-width="1.3"/>
<line x1="167.35" y1="366.9" x2="174.35" y2="366.9" stroke="#000" stroke-width="1.3"/>
<line x1="192.1" y1="326.7" x2="192.1" y2="386.4" stroke="#000" stroke-width="1.2"/>
<line x1="188.6" y1="326.7" x2="195.6" y2="326.7" stroke="#000" stroke-width="1.3"/>
<line x1="188.6" y1="386.4" x2="195.6" y2="386.4" stroke="#000" stroke-width="1.3"/>
<line x1="213.35" y1="348.0" x2="213.35" y2="376.0" stroke="#000" stroke-width="1.2"/>
<line x1="209.85" y1="348.0" x2="216.85" y2="348.0" stroke="#000" stroke-width="1.3"/>
<line x1="209.85" y1="376.0" x2="216.85" y2="376.0" stroke="#000" stroke-width="1.3"/>
<line x1="234.6" y1="356.7" x2="234.6" y2="381.5" stroke="#000" stroke-width="1.2"/>
<line x1="231.1" y1="356.7" x2="238.1" y2="356.7" stroke="#000" stroke-width="1.3"/>
<line x1="231.1" y1="381.5" x2="238.1" y2="381.5" stroke="#000" stroke-width="1.3"/>
<line x1="46" y1="353.5" x2="251.3" y2="353.5" stroke="#bb3a5c" stroke-width="1.15" stroke-dasharray="5.3 4.41" stroke-dashoffset="2"/>
<line x1="46" y1="380.7" x2="251.3" y2="380.7" stroke="#bb3a5c" stroke-width="1.15" stroke-dasharray="5.3 4.41" stroke-dashoffset="2"/>
<path d="M84.6 302.3 V298.7 H107.3 V302.3" fill="none" stroke="#000" stroke-width="1.3"/>
<text x="96.44999999999999" y="297.0" font-size="9.5" letter-spacing="0.6" text-anchor="middle" fill="#111" stroke="#111" stroke-width="0.3">***</text>
<text transform="translate(69.5,398.9) rotate(-45)" font-size="11" font-style="italic" text-anchor="end" fill="#111" stroke="#111" stroke-width="0.2" textLength="18" lengthAdjust="spacingAndGlyphs"><tspan font-size="13.5" dy="0.6">+</tspan><tspan dy="-0.6"></tspan>/<tspan font-size="13.5" dy="0.6">+</tspan><tspan dy="-0.6"></tspan></text>
<text transform="translate(89.75,401.4) rotate(-45)" font-size="11" font-style="italic" text-anchor="end" fill="#111" stroke="#111" stroke-width="0.2" textLength="27" lengthAdjust="spacingAndGlyphs">weh/<tspan font-size="13.5" dy="0.6">+</tspan><tspan dy="-0.6"></tspan></text>
<text transform="translate(111.0,401.4) rotate(-45)" font-size="11" font-style="italic" text-anchor="end" fill="#111" stroke="#111" stroke-width="0.2" textLength="38" lengthAdjust="spacingAndGlyphs">weh/weh</text>
<text transform="translate(133.25,398.9) rotate(-45)" font-size="11" font-style="italic" text-anchor="end" fill="#111" stroke="#111" stroke-width="0.2" textLength="18" lengthAdjust="spacingAndGlyphs"><tspan font-size="13.5" dy="0.6">+</tspan><tspan dy="-0.6"></tspan>/<tspan font-size="13.5" dy="0.6">+</tspan><tspan dy="-0.6"></tspan></text>
<text transform="translate(153.5,401.4) rotate(-45)" font-size="11" font-style="italic" text-anchor="end" fill="#111" stroke="#111" stroke-width="0.2" textLength="27" lengthAdjust="spacingAndGlyphs">weh/<tspan font-size="13.5" dy="0.6">+</tspan><tspan dy="-0.6"></tspan></text>
<text transform="translate(174.75,401.4) rotate(-45)" font-size="11" font-style="italic" text-anchor="end" fill="#111" stroke="#111" stroke-width="0.2" textLength="38" lengthAdjust="spacingAndGlyphs">weh/weh</text>
<text transform="translate(197.0,398.9) rotate(-45)" font-size="11" font-style="italic" text-anchor="end" fill="#111" stroke="#111" stroke-width="0.2" textLength="18" lengthAdjust="spacingAndGlyphs"><tspan font-size="13.5" dy="0.6">+</tspan><tspan dy="-0.6"></tspan>/<tspan font-size="13.5" dy="0.6">+</tspan><tspan dy="-0.6"></tspan></text>
<text transform="translate(217.25,401.4) rotate(-45)" font-size="11" font-style="italic" text-anchor="end" fill="#111" stroke="#111" stroke-width="0.2" textLength="27" lengthAdjust="spacingAndGlyphs">weh/<tspan font-size="13.5" dy="0.6">+</tspan><tspan dy="-0.6"></tspan></text>
<text transform="translate(238.5,401.4) rotate(-45)" font-size="11" font-style="italic" text-anchor="end" fill="#111" stroke="#111" stroke-width="0.2" textLength="38" lengthAdjust="spacingAndGlyphs">weh/weh</text>
<line x1="117.2" y1="431.5" x2="174.5" y2="431.5" stroke="#3a3a3a" stroke-width="1.5"/>
<line x1="180.7" y1="431.5" x2="238.4" y2="431.5" stroke="#3a3a3a" stroke-width="1.5"/>
<text x="118.5" y="445.0" font-size="10.3" fill="#c42a52" textLength="53.5" lengthAdjust="spacing">+10uM Iron</text>
<text x="182" y="445.0" font-size="10.3" fill="#52443a" textLength="54" lengthAdjust="spacing">+15uM Iron</text>
<rect x="317.75" y="301.2" width="14.2" height="85.20" fill="#4a5867"/>
<rect x="339.00" y="310.2" width="14.2" height="76.20" fill="#4a5867"/>
<rect x="360.25" y="307.6" width="14.2" height="78.80" fill="#4a5867"/>
<rect x="381.50" y="337.2" width="14.2" height="49.20" fill="#8f9aa3"/>
<rect x="402.75" y="342.3" width="14.2" height="44.10" fill="#8f9aa3"/>
<rect x="424.00" y="318.8" width="14.2" height="67.60" fill="#8f9aa3"/>
<rect x="445.25" y="325.7" width="14.2" height="60.70" fill="#c5cacd"/>
<rect x="466.50" y="328.0" width="14.2" height="58.40" fill="#c5cacd"/>
<rect x="487.75" y="325.3" width="14.2" height="61.10" fill="#c5cacd"/>
<line x1="310.4" y1="248.7" x2="310.4" y2="387.04999999999995" stroke="#000" stroke-width="1.3"/>
<line x1="309.75" y1="386.4" x2="512" y2="386.4" stroke="#000" stroke-width="1.3"/>
<line x1="306.9" y1="386.4" x2="310.4" y2="386.4" stroke="#000" stroke-width="1.2"/>
<text x="302.59999999999997" y="390.09999999999997" font-size="10.2" text-anchor="end" fill="#111" stroke="#111" stroke-width="0.15" textLength="5.7" lengthAdjust="spacingAndGlyphs">0</text>
<line x1="306.9" y1="341.9" x2="310.4" y2="341.9" stroke="#000" stroke-width="1.2"/>
<text x="302.59999999999997" y="345.59999999999997" font-size="10.2" text-anchor="end" fill="#111" stroke="#111" stroke-width="0.15" textLength="11.6" lengthAdjust="spacingAndGlyphs">10</text>
<line x1="306.9" y1="297.4" x2="310.4" y2="297.4" stroke="#000" stroke-width="1.2"/>
<text x="302.59999999999997" y="301.09999999999997" font-size="10.2" text-anchor="end" fill="#111" stroke="#111" stroke-width="0.15" textLength="11.6" lengthAdjust="spacingAndGlyphs">20</text>
<line x1="306.9" y1="252.89999999999998" x2="310.4" y2="252.89999999999998" stroke="#000" stroke-width="1.2"/>
<text x="302.59999999999997" y="256.59999999999997" font-size="10.2" text-anchor="end" fill="#111" stroke="#111" stroke-width="0.15" textLength="11.6" lengthAdjust="spacingAndGlyphs">30</text>
<line x1="324.5" y1="386.4" x2="324.5" y2="390.2" stroke="#000" stroke-width="1.2"/>
<line x1="345.75" y1="386.4" x2="345.75" y2="390.2" stroke="#000" stroke-width="1.2"/>
<line x1="367.0" y1="386.4" x2="367.0" y2="390.2" stroke="#000" stroke-width="1.2"/>
<line x1="388.25" y1="386.4" x2="388.25" y2="390.2" stroke="#000" stroke-width="1.2"/>
<line x1="409.5" y1="386.4" x2="409.5" y2="390.2" stroke="#000" stroke-width="1.2"/>
<line x1="430.75" y1="386.4" x2="430.75" y2="390.2" stroke="#000" stroke-width="1.2"/>
<line x1="452.0" y1="386.4" x2="452.0" y2="390.2" stroke="#000" stroke-width="1.2"/>
<line x1="473.25" y1="386.4" x2="473.25" y2="390.2" stroke="#000" stroke-width="1.2"/>
<line x1="494.5" y1="386.4" x2="494.5" y2="390.2" stroke="#000" stroke-width="1.2"/>
<text x="269.3" y="242.39999999999998" font-size="15.2" font-weight="bold" fill="#000" stroke="#000" stroke-width="0.5">D</text>
<text transform="translate(284,319.9) rotate(-90)" font-size="12.5" text-anchor="middle" fill="#111" stroke="#111" stroke-width="0.4" textLength="103" lengthAdjust="spacingAndGlyphs">lcr:GFP− RPA signal (*10<tspan font-size="8.5" dy="-5">3</tspan><tspan dy="5">)</tspan></text>
<circle cx="324.6" cy="281.5" r="2.85" fill="#fff" stroke="#111" stroke-width="1.2"/>
<circle cx="320.7" cy="288.7" r="2.85" fill="#fff" stroke="#111" stroke-width="1.2"/>
<circle cx="329.2" cy="288.7" r="2.85" fill="#fff" stroke="#111" stroke-width="1.2"/>
<circle cx="324.6" cy="304.5" r="2.85" fill="#fff" stroke="#111" stroke-width="1.2"/>
<circle cx="324.6" cy="314.2" r="2.85" fill="#fff" stroke="#111" stroke-width="1.2"/>
<circle cx="346.1" cy="290.0" r="2.85" fill="#fff" stroke="#111" stroke-width="1.2"/>
<circle cx="345.6" cy="297.3" r="2.85" fill="#fff" stroke="#111" stroke-width="1.2"/>
<circle cx="341.5" cy="321.0" r="2.85" fill="#fff" stroke="#111" stroke-width="1.2"/>
<circle cx="345.6" cy="321.4" r="2.85" fill="#fff" stroke="#111" stroke-width="1.2"/>
<circle cx="350.7" cy="320.7" r="2.85" fill="#fff" stroke="#111" stroke-width="1.2"/>
<circle cx="367.1" cy="284.6" r="2.85" fill="#fff" stroke="#111" stroke-width="1.2"/>
<circle cx="367.1" cy="295.3" r="2.85" fill="#fff" stroke="#111" stroke-width="1.2"/>
<circle cx="367.1" cy="305.6" r="2.85" fill="#fff" stroke="#111" stroke-width="1.2"/>
<circle cx="367.1" cy="311.1" r="2.85" fill="#fff" stroke="#111" stroke-width="1.2"/>
<circle cx="389.1" cy="296.1" r="2.85" fill="#fff" stroke="#111" stroke-width="1.2"/>
<circle cx="410.3" cy="288.7" r="2.85" fill="#fff" stroke="#111" stroke-width="1.2"/>
<circle cx="427.5" cy="297.9" r="2.85" fill="#fff" stroke="#111" stroke-width="1.2"/>
<circle cx="431.8" cy="297.9" r="2.85" fill="#fff" stroke="#111" stroke-width="1.2"/>
<circle cx="436.1" cy="297.9" r="2.85" fill="#fff" stroke="#111" stroke-width="1.2"/>
<circle cx="448.4" cy="315.6" r="2.85" fill="#fff" stroke="#111" stroke-width="1.2"/>
<circle cx="454.1" cy="315.0" r="2.85" fill="#fff" stroke="#111" stroke-width="1.2"/>
<circle cx="457.7" cy="316.1" r="2.85" fill="#fff" stroke="#111" stroke-width="1.2"/>
<circle cx="448.4" cy="321.4" r="2.85" fill="#fff" stroke="#111" stroke-width="1.2"/>
<circle cx="454.6" cy="321.1" r="2.85" fill="#fff" stroke="#111" stroke-width="1.2"/>
<circle cx="473.5" cy="301.2" r="2.85" fill="#fff" stroke="#111" stroke-width="1.2"/>
<circle cx="476.8" cy="300.7" r="2.85" fill="#fff" stroke="#111" stroke-width="1.2"/>
<circle cx="474.5" cy="306.9" r="2.85" fill="#fff" stroke="#111" stroke-width="1.2"/>
<circle cx="474.5" cy="312.2" r="2.85" fill="#fff" stroke="#111" stroke-width="1.2"/>
<circle cx="475.6" cy="320.2" r="2.85" fill="#fff" stroke="#111" stroke-width="1.2"/>
<circle cx="491.4" cy="315.6" r="2.85" fill="#fff" stroke="#111" stroke-width="1.2"/>
<circle cx="496.0" cy="316.8" r="2.85" fill="#fff" stroke="#111" stroke-width="1.2"/>
<circle cx="500.6" cy="316.8" r="2.85" fill="#fff" stroke="#111" stroke-width="1.2"/>
<circle cx="494.5" cy="321.1" r="2.85" fill="#fff" stroke="#111" stroke-width="1.2"/>
<circle cx="324.6" cy="324.0" r="2.85" fill="#b02042" stroke="#111" stroke-width="1.2"/>
<circle cx="363.0" cy="323.7" r="2.85" fill="#b02042" stroke="#111" stroke-width="1.2"/>
<circle cx="371.7" cy="322.5" r="2.85" fill="#b02042" stroke="#111" stroke-width="1.2"/>
<circle cx="388.8" cy="333.5" r="2.85" fill="#b02042" stroke="#111" stroke-width="1.2"/>
<circle cx="385.0" cy="342.7" r="2.85" fill="#b02042" stroke="#111" stroke-width="1.2"/>
<circle cx="393.4" cy="340.7" r="2.85" fill="#b02042" stroke="#111" stroke-width="1.2"/>
<circle cx="385.0" cy="347.6" r="2.85" fill="#b02042" stroke="#111" stroke-width="1.2"/>
<circle cx="388.8" cy="346.1" r="2.85" fill="#b02042" stroke="#111" stroke-width="1.2"/>
<circle cx="393.4" cy="346.4" r="2.85" fill="#b02042" stroke="#111" stroke-width="1.2"/>
<circle cx="410.0" cy="334.6" r="2.85" fill="#b02042" stroke="#111" stroke-width="1.2"/>
<circle cx="414.6" cy="340.0" r="2.85" fill="#b02042" stroke="#111" stroke-width="1.2"/>
<circle cx="408.8" cy="344.3" r="2.85" fill="#b02042" stroke="#111" stroke-width="1.2"/>
<circle cx="414.6" cy="345.3" r="2.85" fill="#b02042" stroke="#111" stroke-width="1.2"/>
<circle cx="405.7" cy="348.4" r="2.85" fill="#b02042" stroke="#111" stroke-width="1.2"/>
<circle cx="411.8" cy="348.4" r="2.85" fill="#b02042" stroke="#111" stroke-width="1.2"/>
<circle cx="405.7" cy="355.0" r="2.85" fill="#b02042" stroke="#111" stroke-width="1.2"/>
<circle cx="414.6" cy="353.0" r="2.85" fill="#b02042" stroke="#111" stroke-width="1.2"/>
<circle cx="410.6" cy="355.3" r="2.85" fill="#b02042" stroke="#111" stroke-width="1.2"/>
<circle cx="431.0" cy="337.2" r="2.85" fill="#b02042" stroke="#111" stroke-width="1.2"/>
<circle cx="431.0" cy="357.2" r="2.85" fill="#b02042" stroke="#111" stroke-width="1.2"/>
<circle cx="454.4" cy="327.9" r="2.85" fill="#b02042" stroke="#111" stroke-width="1.2"/>
<circle cx="451.4" cy="333.2" r="2.85" fill="#b02042" stroke="#111" stroke-width="1.2"/>
<circle cx="454.4" cy="337.2" r="2.85" fill="#b02042" stroke="#111" stroke-width="1.2"/>
<circle cx="451.4" cy="340.7" r="2.85" fill="#b02042" stroke="#111" stroke-width="1.2"/>
<circle cx="470.2" cy="323.2" r="2.85" fill="#b02042" stroke="#111" stroke-width="1.2"/>
<circle cx="476.0" cy="326.1" r="2.85" fill="#b02042" stroke="#111" stroke-width="1.2"/>
<circle cx="470.2" cy="329.6" r="2.85" fill="#b02042" stroke="#111" stroke-width="1.2"/>
<circle cx="473.3" cy="334.0" r="2.85" fill="#b02042" stroke="#111" stroke-width="1.2"/>
<circle cx="470.2" cy="339.0" r="2.85" fill="#b02042" stroke="#111" stroke-width="1.2"/>
<circle cx="473.3" cy="342.5" r="2.85" fill="#b02042" stroke="#111" stroke-width="1.2"/>
<circle cx="478.6" cy="344.2" r="2.85" fill="#b02042" stroke="#111" stroke-width="1.2"/>
<circle cx="474.7" cy="350.7" r="2.85" fill="#b02042" stroke="#111" stroke-width="1.2"/>
<circle cx="494.0" cy="337.2" r="2.85" fill="#b02042" stroke="#111" stroke-width="1.2"/>
<circle cx="497.9" cy="334.9" r="2.85" fill="#b02042" stroke="#111" stroke-width="1.2"/>
<line x1="324.6" y1="283.0" x2="324.6" y2="318.4" stroke="#000" stroke-width="1.2"/>
<line x1="321.1" y1="283.0" x2="328.1" y2="283.0" stroke="#000" stroke-width="1.3"/>
<line x1="321.1" y1="318.4" x2="328.1" y2="318.4" stroke="#000" stroke-width="1.3"/>
<line x1="345.85" y1="294.6" x2="345.85" y2="320.0" stroke="#000" stroke-width="1.2"/>
<line x1="342.35" y1="294.6" x2="349.35" y2="294.6" stroke="#000" stroke-width="1.3"/>
<line x1="342.35" y1="320.0" x2="349.35" y2="320.0" stroke="#000" stroke-width="1.3"/>
<line x1="367.1" y1="292.3" x2="367.1" y2="316.0" stroke="#000" stroke-width="1.2"/>
<line x1="363.6" y1="292.3" x2="370.6" y2="292.3" stroke="#000" stroke-width="1.3"/>
<line x1="363.6" y1="316.0" x2="370.6" y2="316.0" stroke="#000" stroke-width="1.3"/>
<line x1="388.35" y1="317.9" x2="388.35" y2="354.1" stroke="#000" stroke-width="1.2"/>
<line x1="384.85" y1="317.9" x2="391.85" y2="317.9" stroke="#000" stroke-width="1.3"/>
<line x1="384.85" y1="354.1" x2="391.85" y2="354.1" stroke="#000" stroke-width="1.3"/>
<line x1="409.6" y1="321.9" x2="409.6" y2="361.1" stroke="#000" stroke-width="1.2"/>
<line x1="406.1" y1="321.9" x2="413.1" y2="321.9" stroke="#000" stroke-width="1.3"/>
<line x1="406.1" y1="361.1" x2="413.1" y2="361.1" stroke="#000" stroke-width="1.3"/>
<line x1="430.85" y1="289.7" x2="430.85" y2="344.9" stroke="#000" stroke-width="1.2"/>
<line x1="427.35" y1="289.7" x2="434.35" y2="289.7" stroke="#000" stroke-width="1.3"/>
<line x1="427.35" y1="344.9" x2="434.35" y2="344.9" stroke="#000" stroke-width="1.3"/>
<line x1="452.1" y1="318.5" x2="452.1" y2="333.0" stroke="#000" stroke-width="1.2"/>
<line x1="448.6" y1="318.5" x2="455.6" y2="318.5" stroke="#000" stroke-width="1.3"/>
<line x1="448.6" y1="333.0" x2="455.6" y2="333.0" stroke="#000" stroke-width="1.3"/>
<line x1="473.35" y1="312.0" x2="473.35" y2="344.0" stroke="#000" stroke-width="1.2"/>
<line x1="469.85" y1="312.0" x2="476.85" y2="312.0" stroke="#000" stroke-width="1.3"/>
<line x1="469.85" y1="344.0" x2="476.85" y2="344.0" stroke="#000" stroke-width="1.3"/>
<line x1="494.6" y1="318.0" x2="494.6" y2="332.5" stroke="#000" stroke-width="1.2"/>
<line x1="491.1" y1="318.0" x2="498.1" y2="318.0" stroke="#000" stroke-width="1.3"/>
<line x1="491.1" y1="332.5" x2="498.1" y2="332.5" stroke="#000" stroke-width="1.3"/>
<line x1="306" y1="280.7" x2="511.3" y2="280.7" stroke="#bb3a5c" stroke-width="1.15" stroke-dasharray="5.3 4.41" stroke-dashoffset="2"/>
<line x1="306" y1="322.5" x2="511.3" y2="322.5" stroke="#bb3a5c" stroke-width="1.15" stroke-dasharray="5.3 4.41" stroke-dashoffset="2"/>
<text transform="translate(329.5,398.9) rotate(-45)" font-size="11" font-style="italic" text-anchor="end" fill="#111" stroke="#111" stroke-width="0.2" textLength="18" lengthAdjust="spacingAndGlyphs"><tspan font-size="13.5" dy="0.6">+</tspan><tspan dy="-0.6"></tspan>/<tspan font-size="13.5" dy="0.6">+</tspan><tspan dy="-0.6"></tspan></text>
<text transform="translate(349.75,401.4) rotate(-45)" font-size="11" font-style="italic" text-anchor="end" fill="#111" stroke="#111" stroke-width="0.2" textLength="27" lengthAdjust="spacingAndGlyphs">weh/<tspan font-size="13.5" dy="0.6">+</tspan><tspan dy="-0.6"></tspan></text>
<text transform="translate(371.0,401.4) rotate(-45)" font-size="11" font-style="italic" text-anchor="end" fill="#111" stroke="#111" stroke-width="0.2" textLength="38" lengthAdjust="spacingAndGlyphs">weh/weh</text>
<text transform="translate(393.25,398.9) rotate(-45)" font-size="11" font-style="italic" text-anchor="end" fill="#111" stroke="#111" stroke-width="0.2" textLength="18" lengthAdjust="spacingAndGlyphs"><tspan font-size="13.5" dy="0.6">+</tspan><tspan dy="-0.6"></tspan>/<tspan font-size="13.5" dy="0.6">+</tspan><tspan dy="-0.6"></tspan></text>
<text transform="translate(413.5,401.4) rotate(-45)" font-size="11" font-style="italic" text-anchor="end" fill="#111" stroke="#111" stroke-width="0.2" textLength="27" lengthAdjust="spacingAndGlyphs">weh/<tspan font-size="13.5" dy="0.6">+</tspan><tspan dy="-0.6"></tspan></text>
<text transform="translate(434.75,401.4) rotate(-45)" font-size="11" font-style="italic" text-anchor="end" fill="#111" stroke="#111" stroke-width="0.2" textLength="38" lengthAdjust="spacingAndGlyphs">weh/weh</text>
<text transform="translate(457.0,398.9) rotate(-45)" font-size="11" font-style="italic" text-anchor="end" fill="#111" stroke="#111" stroke-width="0.2" textLength="18" lengthAdjust="spacingAndGlyphs"><tspan font-size="13.5" dy="0.6">+</tspan><tspan dy="-0.6"></tspan>/<tspan font-size="13.5" dy="0.6">+</tspan><tspan dy="-0.6"></tspan></text>
<text transform="translate(477.25,401.4) rotate(-45)" font-size="11" font-style="italic" text-anchor="end" fill="#111" stroke="#111" stroke-width="0.2" textLength="27" lengthAdjust="spacingAndGlyphs">weh/<tspan font-size="13.5" dy="0.6">+</tspan><tspan dy="-0.6"></tspan></text>
<text transform="translate(498.5,401.4) rotate(-45)" font-size="11" font-style="italic" text-anchor="end" fill="#111" stroke="#111" stroke-width="0.2" textLength="38" lengthAdjust="spacingAndGlyphs">weh/weh</text>
<line x1="377.2" y1="431.5" x2="434.5" y2="431.5" stroke="#3a3a3a" stroke-width="1.5"/>
<line x1="440.7" y1="431.5" x2="498.4" y2="431.5" stroke="#3a3a3a" stroke-width="1.5"/>
<text x="378.5" y="445.0" font-size="10.3" fill="#c42a52" textLength="53.5" lengthAdjust="spacing">+10uM Iron</text>
<text x="442" y="445.0" font-size="10.3" fill="#52443a" textLength="54" lengthAdjust="spacing">+15uM Iron</text>
<rect x="0.5" y="0.5" width="519" height="455" fill="none" stroke="#2a2a2a" stroke-width="1"/>
</svg>
</body></html>
